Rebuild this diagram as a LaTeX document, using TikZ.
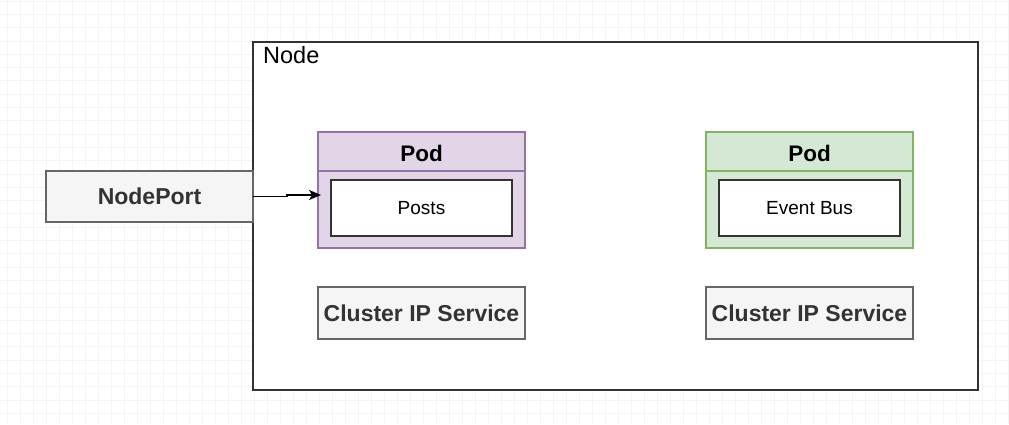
\documentclass[tikz,border=0pt]{standalone}
\usepackage{fontspec}
\setmainfont{Liberation Sans}
\usetikzlibrary{arrows.meta}
\definecolor{podpurplefill}{HTML}{E1D5E7}
\definecolor{podpurpleline}{HTML}{9673A6}
\definecolor{podgreenfill}{HTML}{D5E8D4}
\definecolor{podgreenline}{HTML}{82B366}
\definecolor{svcfill}{HTML}{F5F5F5}
\definecolor{svcline}{HTML}{666666}
\definecolor{darkline}{HTML}{333333}
\definecolor{gridc}{HTML}{F4F4F4}
\begin{document}
\begin{tikzpicture}[x=1pt,y=-1pt,
  box/.style={draw, line width=1.4pt, inner sep=0pt, outer sep=0pt},
  podbox/.style={box, minimum width=207pt, minimum height=116pt},
  innerbox/.style={draw=darkline, fill=white, line width=1.9pt, minimum width=181pt, minimum height=56pt, inner sep=0pt, font=\fontsize{19}{21}\selectfont},
  svcbox/.style={box, draw=svcline, fill=svcfill, minimum width=207pt, minimum height=52pt, font=\fontsize{23}{25}\selectfont\bfseries, text=darkline},
  title/.style={font=\fontsize{22.5}{24}\selectfont\bfseries},
  conn/.style={line width=1.4pt, -{Stealth[length=12pt,width=10pt,inset=3pt]}}
]
\useasboundingbox (0,0) rectangle (1009,424);
\fill[white] (0,0) rectangle (1009,424);
% faint grid
\foreach \i in {0,...,78} {\draw[gridc, line width=0.8pt] ({7.7+13*\i},0) -- ({7.7+13*\i},424);}
\foreach \j in {0,...,32} {\draw[gridc, line width=0.8pt] (0,{1+13.3*\j}) -- (1009,{1+13.3*\j});}
% Node container
\node[box, draw=darkline, fill=white, minimum width=725pt, minimum height=348pt, anchor=north west] (node) at (253,42) {};
\node[anchor=north west, font=\fontsize{23.5}{26}\selectfont, inner sep=0pt] (nodelbl) at (263,46) {Node};
% Pod 1
\node[podbox, draw=podpurpleline, fill=podpurplefill, anchor=north west] (pod1) at (318,132) {};
\draw[podpurpleline, line width=1.4pt] (318,171) -- (525,171);
\node[title] (pod1t) at (421.5,153) {Pod};
\node[innerbox] (posts) at (421.5,208) {Posts};
% Pod 2
\node[podbox, draw=podgreenline, fill=podgreenfill, anchor=north west] (pod2) at (706,132) {};
\draw[podgreenline, line width=1.4pt] (706,171) -- (913,171);
\node[title] (pod2t) at (809.5,153) {Pod};
\node[innerbox] (evbus) at (809.5,208) {Event Bus};
% Cluster IP services
\node[svcbox, anchor=north west] (svc1) at (318,287) {Cluster IP Service};
\node[svcbox, anchor=north west] (svc2) at (706,287) {Cluster IP Service};
% NodePort
\node[svcbox, anchor=north west, minimum width=207pt, minimum height=51pt] (np) at (46,171) {NodePort};
% connector
\coordinate (bend) at (287,195);
\draw[conn, shorten >=9pt] (np.east) -- (np.east -| bend) -- (bend) -- (posts.west |- bend);
\end{tikzpicture}
\end{document}
